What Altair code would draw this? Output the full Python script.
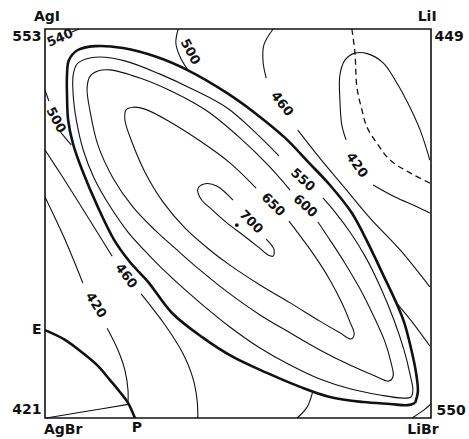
import altair as alt
import pandas as pd

# ---- isotherm / boundary curves (x = mol% Li, y = mol% I) ----
gap_boundary = [(95.9,3.9),(96.6,6.7),(96.1,11.8),(94.8,18.0),(93.0,24.7),(90.7,30.3),(87.6,36.8),
    (83.9,44.5),(79.5,52.7),(73.8,59.9),(68.4,65.6),(62.2,72.0),(55.7,77.4),(47.2,83.5),(36.8,89.5),
    (29.0,92.8),(20.2,95.1),(13.0,95.6),(8.5,94.6),(6.2,92.0),(5.7,88.2),(5.7,83.0),(6.0,76.6),
    (7.2,70.7),(9.6,63.8),(13.7,54.2),(17.9,45.8),(22.0,40.1),(26.7,35.0),(32.9,27.0),(40.7,20.8),
    (48.7,15.7),(57.5,11.6),(66.1,8.0),(73.8,5.4),(82.4,4.1),(89.4,3.6),(94.0,3.3),(95.9,3.9)]

iso_550 = [(72.0,56.6),(75.1,53.0),(79.0,47.8),(83.2,41.1),(87.0,33.4),(90.4,25.2),(93.0,17.5),
    (94.6,11.1),(95.3,7.2),(94.8,5.4),(92.7,5.1),(86.8,5.9),(79.0,7.5),(71.2,10.0),(63.5,13.6),
    (55.7,18.0),(47.9,23.4),(40.2,29.6),(32.9,36.0),(26.9,41.9),(21.5,47.8),(16.6,54.8),(12.7,61.7),
    (9.9,68.9),(8.2,76.1),(7.3,83.0),(7.3,88.2),(8.3,91.0),(10.6,92.3),(14.2,92.8),(20.7,91.8),
    (29.8,88.4),(38.1,84.6),(47.2,79.7),(54.4,73.5),(60.6,67.4)]

iso_600 = [(70.7,50.4),(73.8,45.8),(77.7,39.8),(81.6,33.2),(85.0,26.5),(88.1,19.5),(89.6,14.4),
    (90.2,10.8),(89.1,9.5),(85.5,10.8),(79.0,13.6),(71.2,17.5),(63.5,21.9),(55.7,26.5),(47.9,31.9),
    (40.2,38.0),(34.2,43.2),(28.5,48.3),(22.8,54.2),(17.6,61.7),(13.7,70.2),(11.7,78.7),(10.9,84.8),
    (11.7,87.9),(13.7,89.2),(16.8,89.5),(24.6,87.4),(33.2,83.8),(42.0,78.9),(50.5,72.0),(57.8,65.0),
    (63.5,58.6)]

iso_650 = [(63.2,50.6),(66.1,46.8),(69.9,41.6),(73.8,35.5),(76.9,29.6),(79.0,24.7),(80.1,21.6),
    (79.3,20.3),(76.4,21.9),(71.2,24.9),(63.5,29.6),(55.7,34.2),(47.9,39.3),(42.7,43.2),(36.3,48.8),
    (30.6,55.5),(25.9,63.2),(22.5,71.0),(20.7,76.6),(21.0,79.2),(22.8,79.9),(25.9,79.4),(32.4,76.1),
    (40.2,71.2),(47.9,65.6),(54.7,59.1)]

iso_700 = [(48.7,56.0),(44.6,59.6),(41.5,60.2),(39.6,58.9),(40.4,56.3),(43.3,53.5),(47.2,50.1),
    (51.6,46.8),(55.2,44.0),(57.8,41.9),(59.1,41.6),(59.3,43.4),(57.3,46.0)]

iso_540 = [(7.0,99.2),(8.8,100.0)]
iso_500_left = [(6.8,70.2),(4.0,73.5)]
iso_500_left_top = [(1.0,81.5),(0.0,84.3)]
iso_500_top = [(34.5,100.0),(33.9,96.4),(35.0,92.8),(37.0,89.5)]
iso_500_right = [(90.9,29.8),(95.1,24.7),(99.7,18.5)]
iso_500_bottom = [(69.4,6.9),(67.9,2.8),(65.3,0.0)]
iso_460_left_a = [(0.0,68.9),(4.4,62.2),(9.1,54.8),(17.4,41.6)]
iso_460_left_b = [(24.9,31.9),(31.1,23.9),(35.5,17.0),(38.3,10.3),(39.4,4.6),(39.6,0.0)]
iso_460_right_a = [(59.1,100.0),(56.7,95.9),(56.5,91.5),(57.3,87.4)]
iso_460_right_b = [(65.5,74.0),(71.2,66.8),(77.7,59.1),(84.2,51.4),(92.0,43.2),(99.7,33.7)]
iso_420_left_a = [(0.0,56.8),(5.2,45.8),(9.8,34.7)]
iso_420_left_b = [(16.1,23.1),(18.9,17.5),(20.7,12.3),(21.5,7.2),(21.5,3.9)]
iso_420_corner = [(21.5,3.5),(10.0,1.6),(0.3,0.0)]
iso_420_right_a = [(99.7,66.3),(97.2,74.0),(94.0,81.0),(90.7,86.9),(87.6,91.3),(83.7,93.6),
    (80.3,93.8),(77.7,92.0),(76.4,88.2),(76.4,81.7),(76.9,75.3),(78.0,71.5)]
iso_420_right_b = [(85.0,59.9),(90.7,56.8),(95.9,54.5),(99.7,52.7)]
iso_libr_corner = [(95.1,0.0),(98.2,2.1),(100.0,3.6)]
eutectic_EP = [(0.0,22.6),(5.2,20.1),(9.8,16.7),(13.7,13.4),(16.8,9.8),(19.4,6.7),(21.5,3.9),(23.3,0.0)]
dashed_ridge = [(79.5,100.0),(80.3,93.8),(80.8,85.1),(82.1,79.2),(83.4,74.8),(86.3,70.2),
    (89.4,66.3),(94.6,63.0),(99.7,60.4)]
max_point = [(49.7,49.6)]

curves = [
    ("gap", "thick", gap_boundary), ("ep", "thick", eutectic_EP),
    ("550", "thin", iso_550), ("600", "thin", iso_600), ("650", "thin", iso_650), ("700", "thin", iso_700),
    ("540", "thin", iso_540), ("500l", "thin", iso_500_left), ("500lt", "thin", iso_500_left_top),
    ("500t", "thin", iso_500_top), ("500r", "thin", iso_500_right), ("500b", "thin", iso_500_bottom),
    ("460la", "thin", iso_460_left_a), ("460lb", "thin", iso_460_left_b),
    ("460ra", "thin", iso_460_right_a), ("460rb", "thin", iso_460_right_b),
    ("420la", "thin", iso_420_left_a), ("420lb", "thin", iso_420_left_b), ("420c", "thin", iso_420_corner),
    ("420ra", "thin", iso_420_right_a), ("420rb", "thin", iso_420_right_b),
    ("libr", "thin", iso_libr_corner), ("ridge", "dashed", dashed_ridge),
]

rows = []
for name, style, pts in curves:
    for i, (x, y) in enumerate(pts):
        rows.append({"seg": name, "style": style, "i": i, "x": x, "y": y})
df = pd.DataFrame(rows)

# ---- labels ----
corner_text = ["AgI", "553", "LiI", "449", "E", "421", "AgBr", "P", "550", "LiBr"]
corner_x = [0.5, -4.7, 99.0, 104.7, -2.1, -4.7, 4.7, 23.8, 105.2, 97.9]
corner_y = [103.1, 97.9, 103.1, 97.9, 22.6, 2.1, -3.1, -2.6, 1.8, -3.1]

iso_text = ["540", "500", "500", "460", "460", "420", "420", "550", "600", "650", "700"]
iso_x = [3.9, 2.8, 37.6, 61.4, 21.0, 13.2, 80.8, 66.8, 67.4, 59.1, 53.4]
iso_y = [97.7, 76.6, 94.1, 80.7, 36.5, 29.0, 65.0, 61.2, 54.5, 54.8, 50.4]
iso_angle = [337, 62, 62, 52, 53, 58, 55, 42, 42, 45, 45]

corner_df = pd.DataFrame({"t": corner_text, "x": corner_x, "y": corner_y})
iso_df = pd.DataFrame({"t": iso_text, "x": iso_x, "y": iso_y, "a": iso_angle})
dot_df = pd.DataFrame({"x": [p[0] for p in max_point], "y": [p[1] for p in max_point]})

X = alt.X("x:Q", scale=alt.Scale(domain=[0, 100], nice=False, zero=False), axis=None)
Y = alt.Y("y:Q", scale=alt.Scale(domain=[0, 100], nice=False, zero=False), axis=None)

base = alt.Chart(df)
thin = base.transform_filter(alt.datum.style == "thin").mark_line(
    color="#111", strokeWidth=1.1, interpolate="catmull-rom").encode(X, Y, detail="seg:N", order="i:Q")
thick = base.transform_filter(alt.datum.style == "thick").mark_line(
    color="#111", strokeWidth=2.6, interpolate="catmull-rom").encode(X, Y, detail="seg:N", order="i:Q")
dashed = base.transform_filter(alt.datum.style == "dashed").mark_line(
    color="#111", strokeWidth=1.3, strokeDash=[6, 4], interpolate="catmull-rom").encode(X, Y, detail="seg:N", order="i:Q")

dot = alt.Chart(dot_df).mark_circle(color="#111", size=14, opacity=1).encode(X, Y)

corner = alt.Chart(corner_df).mark_text(font="DejaVu Sans", fontSize=14, fontWeight="bold", color="#111",
    align="center", baseline="middle").encode(X, Y, text="t:N")
isolab = alt.Chart(iso_df).mark_text(font="DejaVu Sans", fontSize=13, fontWeight="bold", color="#111",
    align="center", baseline="middle").encode(X, Y, text="t:N", angle=alt.Angle("a:Q", scale=None))

chart = alt.layer(thin, thick, dashed, dot, corner, isolab).properties(
    width=386, height=389,
    padding={"left": 45, "top": 29, "right": 38, "bottom": 21},
    autosize=alt.AutoSizeParams(type="none"),
    background="white",
).configure_view(stroke="#111", strokeWidth=1.6)

chart.save("out.html", embed_options={"renderer": "svg", "actions": False})
